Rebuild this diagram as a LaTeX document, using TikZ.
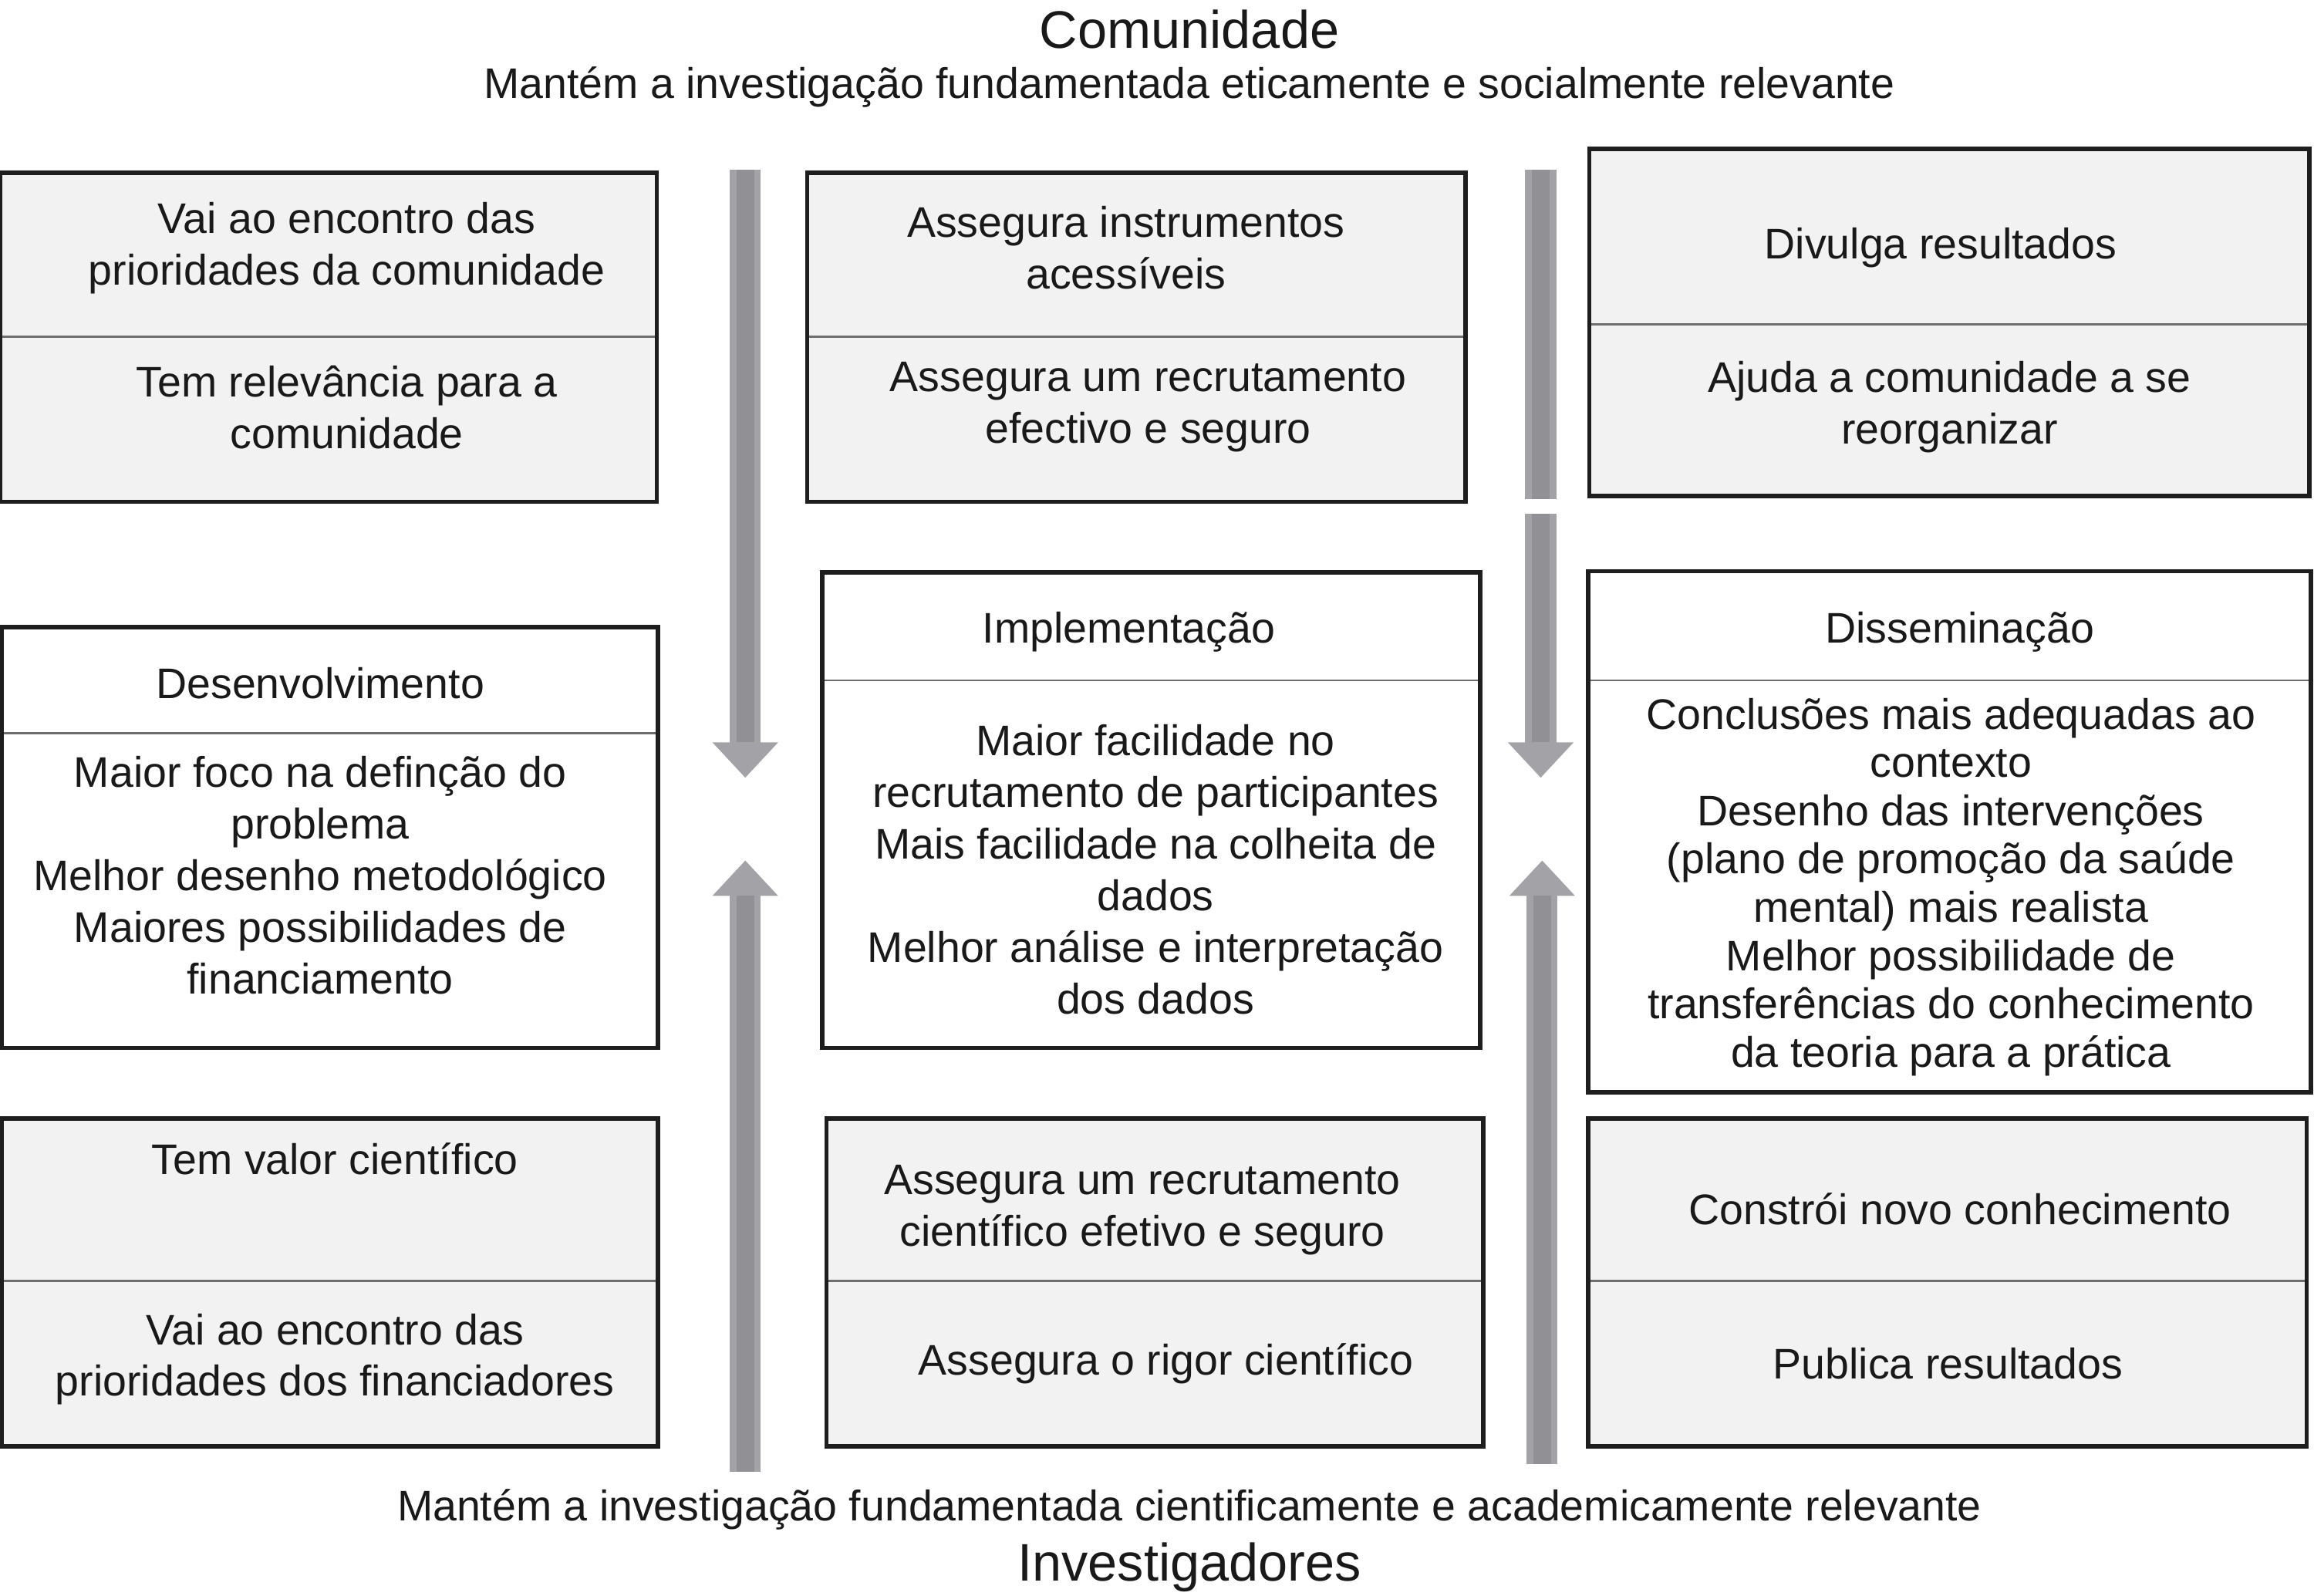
\documentclass[tikz,border=0pt]{standalone}
\usepackage{fontspec}
\setmainfont{Liberation Sans}
\usepackage{tikz}
\usetikzlibrary{arrows.meta,positioning,calc}
\definecolor{BOXGRAY}{HTML}{F1F2F1}
\definecolor{LINEGRAY}{HTML}{6E6E6E}
\definecolor{ARROWGRAY}{HTML}{A3A3A7}
\definecolor{ARROWDARK}{HTML}{919195}
\definecolor{EDGEBLACK}{HTML}{1E1E1E}
\tikzstyle{HALF_GRAY} = [rectangle, draw=LINEGRAY, line width=0.75pt, fill=BOXGRAY, inner sep=0pt, outer sep=0pt]
\tikzstyle{HALF_WHITE} = [rectangle, draw=LINEGRAY, line width=0.75pt, fill=white, inner sep=0pt, outer sep=0pt]
\tikzstyle{FRAME} = [draw=EDGEBLACK, line width=1.5pt]
\tikzstyle{TXT} = [align=center, inner sep=0pt, yshift=-1.5pt, text=black!90, font=\fontsize{14.5}{17.5}\selectfont]
\tikzstyle{TITLE} = [inner sep=0pt, yshift=-1pt, text=black!90, font=\fontsize{17.9}{21}\selectfont]
\tikzstyle{ARROW} = [draw=ARROWGRAY, line width=10.5pt, -{Triangle[width=21.5pt,length=12pt]}]
\tikzstyle{BAR} = [draw=ARROWGRAY, line width=10.5pt]
\tikzstyle{CORE} = [draw=ARROWDARK, line width=6pt]

\begin{document}
\begin{tikzpicture}[x=0.5pt, y=-0.5pt]
\useasboundingbox (0,0) rectangle (1568,1081);
% Define
\tikzstyle{TXT_TIGHT} = [TXT, font=\fontsize{14.5}{16.35}\selectfont]
% Place node
\node [TITLE] (COM_TITLE) at (806,18) {Comunidade};
\node [TXT] (COM_SUB) at (806,56) {Mantém a investigação fundamentada eticamente e socialmente relevante};
\node [TXT] (INV_SUB) at (806,1020) {Mantém a investigação fundamentada cientificamente e academicamente relevante};
\node [TITLE] (INV_TITLE) at (806,1060) {Investigadores};

% left column
\node [HALF_GRAY, anchor=north west, minimum width=222.5pt, minimum height=55.5pt] (LT_A) at (0,117) {};
\node [HALF_GRAY, below=0pt of LT_A, minimum width=222.5pt, minimum height=56pt] (LT_B) {};
\node [HALF_WHITE, anchor=north west, minimum width=222.5pt, minimum height=36pt] (DEV_A) at (1,425) {};
\node [HALF_WHITE, below=0pt of DEV_A, minimum width=222.5pt, minimum height=106.5pt] (DEV_B) {};
\node [HALF_GRAY, anchor=north west, minimum width=222.5pt, minimum height=55pt] (LB_A) at (1,758) {};
\node [HALF_GRAY, below=0pt of LB_A, minimum width=222.5pt, minimum height=56pt] (LB_B) {};

% middle column
\node [HALF_GRAY, anchor=north west, minimum width=223pt, minimum height=55.5pt] (MT_A) at (547,117) {};
\node [HALF_GRAY, below=0pt of MT_A, minimum width=223pt, minimum height=56pt] (MT_B) {};
\node [HALF_WHITE, anchor=north west, minimum width=223pt, minimum height=36.5pt] (IMP_A) at (557,388) {};
\node [HALF_WHITE, below=0pt of IMP_A, minimum width=223pt, minimum height=124.5pt] (IMP_B) {};
\node [HALF_GRAY, anchor=north west, minimum width=222.5pt, minimum height=55pt] (MB_A) at (560,758) {};
\node [HALF_GRAY, below=0pt of MB_A, minimum width=222.5pt, minimum height=56pt] (MB_B) {};

% right column
\node [HALF_GRAY, anchor=north west, minimum width=244pt, minimum height=59.5pt] (RT_A) at (1077,101) {};
\node [HALF_GRAY, below=0pt of RT_A, minimum width=244pt, minimum height=58pt] (RT_B) {};
\node [HALF_WHITE, anchor=north west, minimum width=245pt, minimum height=37pt] (DIS_A) at (1076,387) {};
\node [HALF_WHITE, below=0pt of DIS_A, minimum width=245pt, minimum height=139.5pt] (DIS_B) {};
\node [HALF_GRAY, anchor=north west, minimum width=243.5pt, minimum height=55pt] (RB_A) at (1076,758) {};
\node [HALF_GRAY, below=0pt of RB_A, minimum width=243.5pt, minimum height=56pt] (RB_B) {};

% frames
\foreach \UP/\DOWN in {LT_A/LT_B, DEV_A/DEV_B, LB_A/LB_B, MT_A/MT_B, IMP_A/IMP_B, MB_A/MB_B, RT_A/RT_B, DIS_A/DIS_B, RB_A/RB_B}
  \draw [FRAME] (\UP.north west) rectangle (\DOWN.south east);

% texts
\node [TXT] (T_LT_A) at (235,165) {Vai ao encontro das\\prioridades da comunidade};
\node [TXT] (T_LT_B) at (235,273) {Tem relevância para a\\comunidade};
\node [TXT] (T_DEV_A) at (217,460) {Desenvolvimento};
\node [TXT] (T_DEV_B) at (217,590) {Maior foco na definção do\\problema\\Melhor desenho metodológico\\Maiores possibilidades de\\financiamento};
\node [TXT] (T_LB_A) at (227,782) {Tem valor científico};
\node [TXT] (T_LB_B) at (227,918) {Vai ao encontro das\\prioridades dos financiadores};

\node [TXT] (T_MT_A) at (763,165) {Assegura instrumentos\\acessíveis};
\node [TXT] (T_MT_B) at (778,273) {Assegura um recrutamento\\efectivo e seguro};
\node [TXT] (T_IMP_A) at (765,425) {Implementação};
\node [TXT] (T_IMP_B) at (783,586) {Maior facilidade no\\recrutamento de participantes\\Mais facilidade na colheita de\\dados\\Melhor análise e interpretação\\dos dados};
\node [TXT] (T_MB_A) at (774,817) {Assegura um recrutamento\\científico efetivo e seguro};
\node [TXT] (T_MB_B) at (790,921) {Assegura o rigor científico};

\node [TXT] (T_RT_A) at (1315,165) {Divulga resultados};
\node [TXT] (T_RT_B) at (1321,273) {Ajuda a comunidade a se\\reorganizar};
\node [TXT] (T_DIS_A) at (1328,425) {Disseminação};
\node [TXT_TIGHT] (T_DIS_B) at (1322,598) {Conclusões mais adequadas ao\\contexto\\Desenho das intervenções\\(plano de promoção da saúde\\mental) mais realista\\Melhor possibilidade de\\transferências do conhecimento\\da teoria para a prática};
\node [TXT] (T_RB_A) at (1328,816) {Constrói novo conhecimento};
\node [TXT] (T_RB_B) at (1320,921) {Publica resultados};

% LINES and ARROWS
\coordinate (A1_TOP) at (505,115);
\coordinate (A1_TIP) at (505,527);
\coordinate (A1_BOT) at (505,997);
\coordinate (A1_UP) at (505,583);
\coordinate (A2_TOP) at (1044,115);
\coordinate (A2_CUT) at (1044,338);
\coordinate (A2_MID) at (1044,348);
\coordinate (A2_TIP) at (1044,527);
\coordinate (A2_BOT) at (1045,992);
\coordinate (A2_UP) at (1045,583);
\path [ARROW] (A1_TOP) -- (A1_TIP);
\path [ARROW] (A1_BOT) -- (A1_UP);
\path [BAR] (A2_TOP) -- (A2_CUT);
\path [ARROW] (A2_MID) -- (A2_TIP);
\path [ARROW] (A2_BOT) -- (A2_UP);
% darker core of the shafts
\path [CORE] (A1_TOP) -- ($(A1_TIP)+(0,-24)$);
\path [CORE] (A1_BOT) -- ($(A1_UP)+(0,24)$);
\path [CORE] (A2_TOP) -- (A2_CUT);
\path [CORE] (A2_MID) -- ($(A2_TIP)+(0,-24)$);
\path [CORE] (A2_BOT) -- ($(A2_UP)+(0,24)$);
\end{tikzpicture}
\end{document}
